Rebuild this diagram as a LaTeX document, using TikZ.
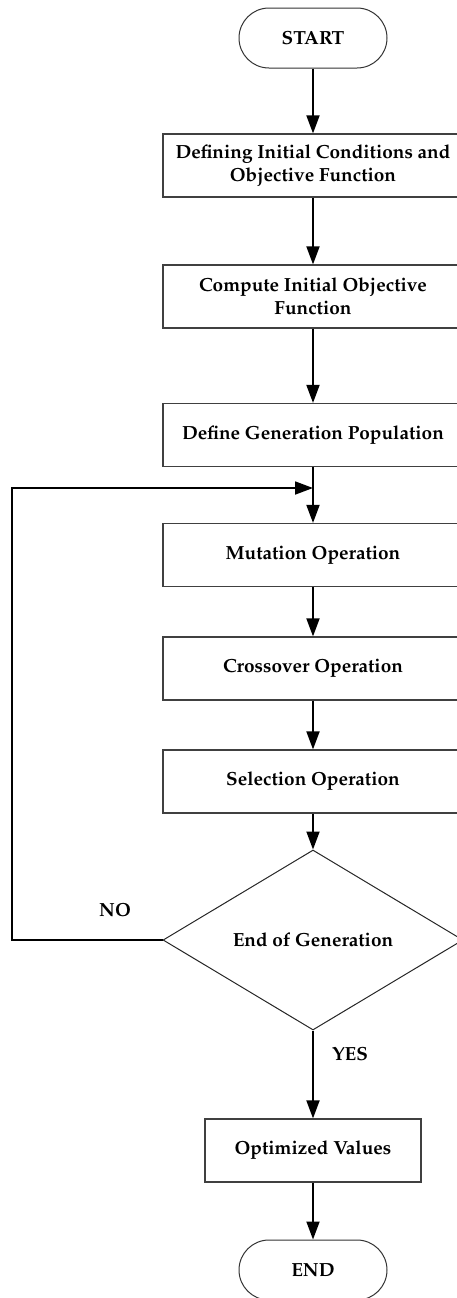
\documentclass[tikz,border=0pt]{standalone}
\usepackage[T1]{fontenc}
\usepackage{mathpazo}
\usetikzlibrary{arrows.meta,shapes.geometric}

\tikzset{
  flowtext/.style={font=\fontsize{9.5}{11.5}\selectfont\bfseries, align=center},
  terminal/.style={flowtext, draw=black!80, line width=0.5pt, rectangle,
    rounded corners=15pt, minimum width=74pt, minimum height=30pt},
  process/.style={flowtext, draw=black!75, line width=0.6pt, rectangle,
    minimum width=150pt, minimum height=31.5pt},
  decision/.style={flowtext, draw=black!85, line width=0.5pt, diamond,
    inner sep=0pt, minimum width=150pt, minimum height=90pt},
  flow/.style={->, line width=0.9pt},
}

\begin{document}
\begin{tikzpicture}[x=0.5pt, y=-0.5pt, >={Triangle[length=9pt,width=6.5pt]}]
\useasboundingbox (0,0) rectangle (456,1298);

\def \cx {313} % x of the main column

% nodes, top to bottom
\node[terminal] (start) at (\cx,38) {START};
\node[process] (init) at (\cx,165.5) {Defining Initial Conditions and\\Objective Function};
\node[process] (comp) at (\cx,296.5) {Compute Initial Objective\\Function};
\node[process] (pop) at (\cx,435) {Define Generation Population};
\node[process] (mut) at (\cx,555) {Mutation Operation};
\node[process] (cross) at (\cx,668.5) {Crossover Operation};
\node[process] (sel) at (\cx,781.5) {Selection Operation};
\node[decision] (gen) at (\cx,940) {End of Generation};
\node[process, minimum width=108pt] (opt) at (\cx,1150.5) {Optimized Values};
\node[terminal] (end) at (\cx,1270) {END};

% straight arrows down the column
\foreach \a/\b in {start/init, init/comp, comp/pop, pop/mut, mut/cross, cross/sel, sel/gen, opt/end}
{
  \draw[flow] (\a) -- (\b);
}
\draw[flow] (gen.south) -- (opt.north);
\node[flowtext] (yes) at (350,1054) {YES};

% loop back for the next generation
\coordinate (merge) at (\cx,488);
\coordinate (back) at (12,488);
\draw[flow] (gen.west) -| (back) -- (merge);
\node[flowtext] (no) at (115,910) {NO};
\end{tikzpicture}
\end{document}
